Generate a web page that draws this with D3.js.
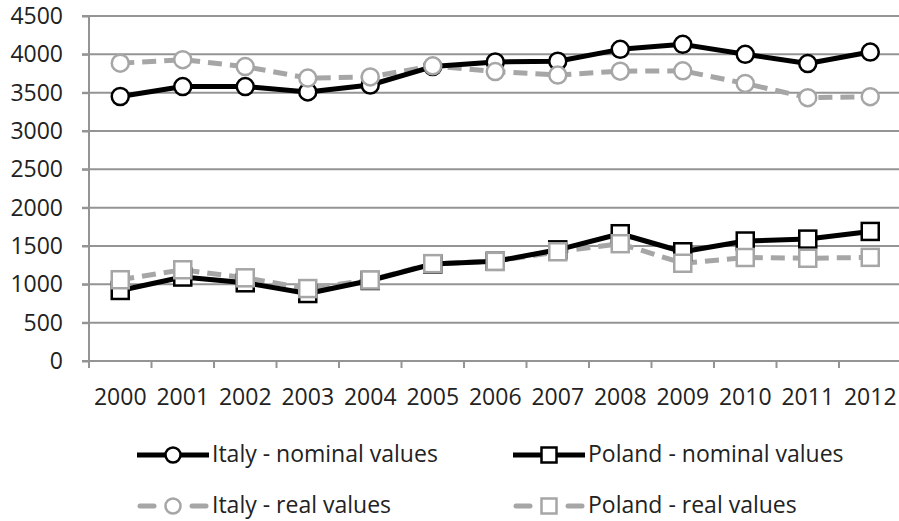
<!DOCTYPE html>
<html><head><meta charset="utf-8">
<script src="https://cdn.jsdelivr.net/npm/d3@7/dist/d3.min.js"></script>
<style>body{margin:0;background:#fff}svg{display:block}text{font-family:"Open Sans",sans-serif;fill:#222}</style>
</head><body><svg id="c" width="899" height="521"></svg>
<script>
const years = ["2000","2001","2002","2003","2004","2005","2006","2007","2008","2009","2010","2011","2012"];
const yTicks = [0,500,1000,1500,2000,2500,3000,3500,4000,4500];
const italyNominal = [3450,3580,3580,3510,3600,3840,3900,3910,4065,4130,4000,3880,4030];
const italyReal    = [3885,3930,3840,3690,3705,3850,3775,3730,3780,3785,3620,3435,3448];
const polandNominal= [920,1095,1020,880,1050,1265,1300,1450,1660,1425,1565,1590,1690];
const polandReal   = [1060,1190,1085,945,1057,1270,1300,1425,1530,1275,1350,1340,1352];
const legendLabels = ["Italy - nominal values","Poland - nominal values","Italy - real values","Poland - real values"];

const svg = d3.select("#c");
const x = d3.scaleBand().domain(years).range([89, 901.5]);
const y = d3.scaleLinear().domain([0,4500]).range([361, 16]);
const gridCol = "#949494", black = "#000", gray = "#a6a6a6";
const fs = "23px";

// gridlines
svg.append("g").selectAll("line").data(yTicks.filter(d=>d>0)).join("line")
  .attr("x1",82).attr("x2",899).attr("y1",d=>y(d)).attr("y2",d=>y(d))
  .attr("stroke",gridCol).attr("stroke-width",2);
// y axis
const ya = svg.append("g").attr("transform","translate(89,0)")
  .call(d3.axisLeft(y).tickValues(yTicks).tickSize(7).tickPadding(10).tickFormat(d3.format("d")));
ya.select(".domain").attr("stroke",gridCol).attr("stroke-width",2).attr("d","M0,"+y(4500)+"V"+(y(0)+7));
ya.selectAll(".tick line").attr("stroke",gridCol).attr("stroke-width",2);
ya.selectAll("text").style("font-size",fs).attr("fill","#222").attr("x",-26);
// x axis
svg.append("line").attr("x1",82).attr("x2",899).attr("y1",y(0)).attr("y2",y(0)).attr("stroke",gridCol).attr("stroke-width",2);
svg.append("g").selectAll("line").data(years.slice(1)).join("line")
  .attr("x1",d=>x(d)).attr("x2",d=>x(d)).attr("y1",y(0)).attr("y2",y(0)+7)
  .attr("stroke",gridCol).attr("stroke-width",2);
svg.append("g").selectAll("text").data(years).join("text")
  .attr("x",d=>x(d)+x.bandwidth()/2).attr("y",405).attr("text-anchor","middle")
  .style("font-size",fs).text(d=>d);

const line = d3.line().x((d,i)=>x(years[i])+x.bandwidth()/2).y(d=>y(d));
function drawLine(data, col, dash){
  svg.append("path").datum(data).attr("d",line).attr("fill","none")
    .attr("stroke",col).attr("stroke-width",5).attr("stroke-linejoin","round")
    .attr("stroke-dasharray",dash||null);
}
function drawMarkers(data, col, shape){
  const g = svg.append("g");
  data.forEach((v,i)=>{
    const cx = x(years[i])+x.bandwidth()/2, cy = y(v);
    if(shape==="circle") g.append("circle").attr("cx",cx).attr("cy",cy).attr("r",8.5)
      .attr("fill","#fff").attr("stroke",col).attr("stroke-width",2.5);
    else g.append("rect").attr("x",cx-8.5).attr("y",cy-8.5).attr("width",17).attr("height",17)
      .attr("fill","#fff").attr("stroke",col).attr("stroke-width",2.5);
  });
}
drawLine(italyReal, gray, "14,8");
drawLine(polandReal, gray, "14,8");
drawLine(italyNominal, black);
drawLine(polandNominal, black);
drawMarkers(italyNominal, black, "circle");
drawMarkers(polandNominal, black, "rect");
drawMarkers(italyReal, gray, "circle");
drawMarkers(polandReal, gray, "rect");

// legend
const leg = [
  {x:137, y:455, col:black, shape:"circle", dash:false, label:legendLabels[0]},
  {x:513, y:455, col:black, shape:"rect", dash:false, label:legendLabels[1]},
  {x:137, y:506, col:gray, shape:"circle", dash:true, label:legendLabels[2]},
  {x:513, y:506, col:gray, shape:"rect", dash:true, label:legendLabels[3]}
];
leg.forEach(l=>{
  const g = svg.append("g");
  const cx = l.x+36;
  if(l.dash){
    g.append("line").attr("x1",l.x+3).attr("x2",l.x+17).attr("y1",l.y).attr("y2",l.y).attr("stroke",l.col).attr("stroke-width",5).attr("stroke-linecap","round");
    g.append("line").attr("x1",l.x+55).attr("x2",l.x+69).attr("y1",l.y).attr("y2",l.y).attr("stroke",l.col).attr("stroke-width",5).attr("stroke-linecap","round");
  } else {
    g.append("line").attr("x1",l.x).attr("x2",l.x+72).attr("y1",l.y).attr("y2",l.y).attr("stroke",l.col).attr("stroke-width",5);
  }
  if(l.shape==="circle") g.append("circle").attr("cx",cx).attr("cy",l.y).attr("r",7.5).attr("fill","#fff").attr("stroke",l.col).attr("stroke-width",2.5);
  else g.append("rect").attr("x",cx-7.5).attr("y",l.y-7.5).attr("width",15).attr("height",15).attr("fill","#fff").attr("stroke",l.col).attr("stroke-width",2.5);
  g.append("text").attr("x",l.x+75).attr("y",l.y+7).style("font-size",fs).text(l.label);
});
</script></body></html>
